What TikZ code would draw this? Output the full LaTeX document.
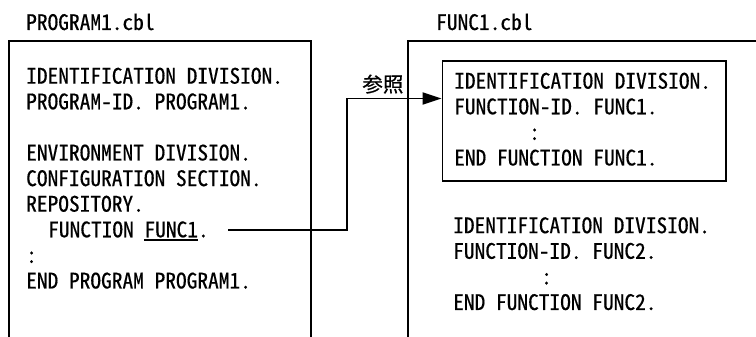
\documentclass[tikz,border=0pt]{standalone}
\usepackage{fontspec}
\newfontfamily\codefont[RawFeature=+hwid, FakeBold=0.4]{Noto Sans CJK JP}
\newfontfamily\cjkfont[FakeBold=0.6]{Noto Sans CJK JP}
\usetikzlibrary{
    arrows.meta,
    positioning
}

% underlined name inside a code line
\newcommand{\codeul}[1]{%
    \setbox0\hbox{#1}\rlap{\rule[-3.5pt]{\wd0}{1.5pt}}\box0}

\begin{document}
\begin{tikzpicture}[
        x=1pt, y=-1pt,
        code/.style={
            anchor=north west,
            inner sep=0pt,
            align=left,
            font=\codefont\fontsize{21.4}{25.6}\selectfont
        },
        filename/.style={
            anchor=base west,
            inner sep=0pt,
            font=\codefont\fontsize{21.4}{25.6}\selectfont
        },
        frame/.style={
            line width=1.5pt
        },
        funcbox/.style={
            draw,
            line width=1.8pt,
            anchor=north west,
            inner sep=0pt,
            minimum width=283.5pt,
            minimum height=120pt
        },
        refline/.style={
            -{Triangle[length=19pt,width=12pt]},
            line width=1.8pt
        }
    ]

    \useasboundingbox (0,0) rectangle (756,337);

    % the two source files
    \draw[frame] (9,337) |- (311,41) -- (311,337);
    \draw[frame] (408,337) |- (756,41);

    \node[filename] (progname) at (26,30) {PROGRAM1.cbl};
    \node[filename] (funcname) at (436,30) {FUNC1.cbl};

    \node[code] (progtext) at (26,67.5)
        {IDENTIFICATION DIVISION.\\
         PROGRAM-ID. PROGRAM1.\\[25.6pt]
         ENVIRONMENT DIVISION.\\
         CONFIGURATION SECTION.\\
         REPOSITORY.\\
         \hspace*{22pt}FUNCTION \codeul{FUNC1}.\\
         :\\
         END PROGRAM PROGRAM1.};

    \node[funcbox] (func1box) at (441.5,60) {};

    \node[code] (func1text) at (454,72.5)
        {IDENTIFICATION DIVISION.\\
         FUNCTION-ID. FUNC1.\\
         \hspace*{75pt}:\\
         END FUNCTION FUNC1.};

    \node[code] (func2text) at (453,217)
        {IDENTIFICATION DIVISION.\\
         FUNCTION-ID. FUNC2.\\
         \hspace*{88pt}:\\
         END FUNCTION FUNC2.};

    % reference from the REPOSITORY paragraph
    \coordinate (refstart) at (228,230);
    \coordinate (refbend) at (347,98.5);

    \draw[refline]
        (refstart)
        -| (refbend)
        -- (refbend -| func1box.west)
        node[pos=0.38, above=4pt, inner sep=0pt,
             font=\cjkfont\fontsize{20.5}{20.5}\selectfont] {参照};

\end{tikzpicture}
\end{document}
